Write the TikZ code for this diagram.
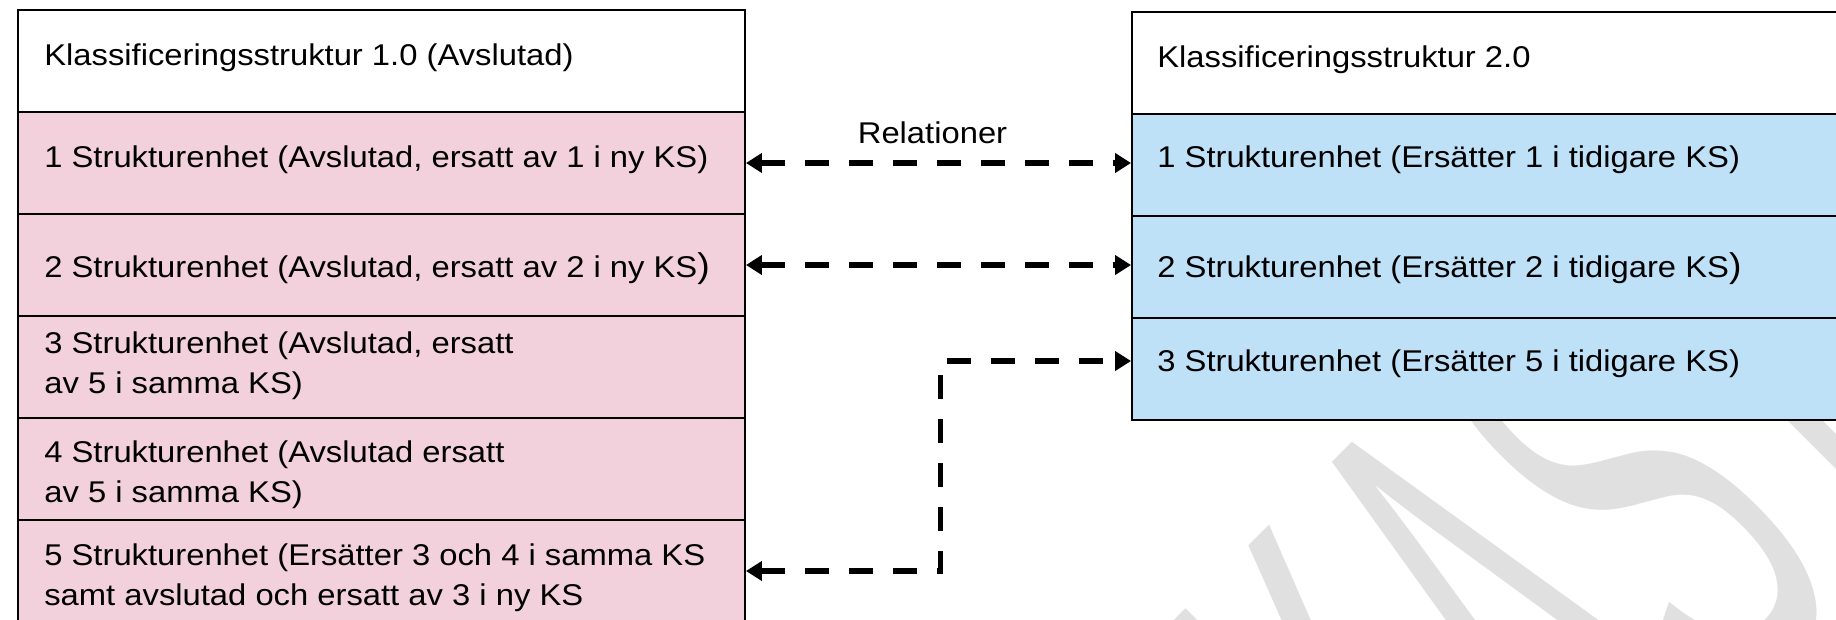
\documentclass[tikz,border=0pt]{standalone}
\usepackage{fontspec}
\setmainfont{Liberation Sans}[FakeStretch=1.092]
\newfontfamily\vmfont{Liberation Sans}[FakeStretch=0.4]
\usepackage{tikz}
\usetikzlibrary{arrows.meta}

\definecolor{ksrosa}{RGB}{242,209,220}
\definecolor{ksbla}{RGB}{190,225,248}

\tikzset{
  rad/.style={draw=black, line width=1.1pt, minimum width=14.54cm, minimum height=2.04cm, inner sep=0pt},
  rubrik/.style={rad, fill=white},
  gammal/.style={rad, fill=ksrosa},
  ny/.style={rad, fill=ksbla},
  txt/.style={anchor=base west, inner sep=0pt, align=left, font=\fontsize{17.07pt}{22.76pt}\selectfont},
  relpil/.style={{Triangle[length=0.32cm,width=0.38cm]}-{Triangle[length=0.32cm,width=0.38cm]}, line width=0.11cm, dash pattern=on 0.48cm off 0.40cm}
}
\newcommand{\storparen}{{\fontsize{19.5pt}{22.76pt}\selectfont )}}

\begin{document}
\begin{tikzpicture}
\useasboundingbox (0,0) rectangle (36.72,-12.38);
\clip (0,0) rectangle (36.72,-12.38);
% vattenstampel
\node [rotate=45, anchor=base west, inner sep=0pt, text=black!12, font=\vmfont\fontsize{381pt}{381pt}\selectfont] (vm) at (24.51,-24.40) {UTKAST};

% KS 1.0
\node [rubrik] (l0) at (7.63,-1.22) {};
\node [gammal] (l1) at (7.63,-3.26) {};
\node [gammal] (l2) at (7.63,-5.30) {};
\node [gammal] (l3) at (7.63,-7.34) {};
\node [gammal] (l4) at (7.63,-9.38) {};
\node [gammal] (l5) at (7.63,-11.42) {};
\node [txt] (t0) at (0.88,-1.30) {Klassificeringsstruktur 1.0 (Avslutad)};
\node [txt] (t1) at (0.88,-3.34) {1 Strukturenhet (Avslutad, ersatt av 1 i ny KS)};
\node [txt] (t2) at (0.88,-5.54) {2 Strukturenhet (Avslutad, ersatt av 2 i ny KS\storparen};
% flerradiga: base = sista raden
\node [txt] (t3) at (0.88,-7.86) {3 Strukturenhet (Avslutad, ersatt\\av 5 i samma KS)};
\node [txt] (t4) at (0.88,-10.04) {4 Strukturenhet (Avslutad ersatt\\av 5 i samma KS)};
\node [txt] (t5) at (0.88,-12.10) {5 Strukturenhet (Ersätter 3 och 4 i samma KS\\samt avslutad och ersatt av 3 i ny KS};

% KS 2.0
\node [rubrik] (r0) at (29.91,-1.26) {};
\node [ny] (r1) at (29.91,-3.30) {};
\node [ny] (r2) at (29.91,-5.34) {};
\node [ny] (r3) at (29.91,-7.38) {};
\node [txt] (s0) at (23.14,-1.34) {Klassificeringsstruktur 2.0};
\node [txt] (s1) at (23.14,-3.34) {1 Strukturenhet (Ersätter 1 i tidigare KS)};
\node [txt] (s2) at (23.14,-5.54) {2 Strukturenhet (Ersätter 2 i tidigare KS\storparen};
\node [txt] (s3) at (23.14,-7.42) {3 Strukturenhet (Ersätter 5 i tidigare KS)};

% relationer
\node [txt, anchor=base] (rel) at (18.65,-2.86) {Relationer};
\coordinate (kna) at (18.81,-7.22);
\draw [relpil] (l1.east) -- (l1.east -| r1.west);
\draw [relpil] (l2.east) -- (l2.east -| r2.west);
\draw [relpil] (l5.east) -| (kna) -- (kna -| r3.west);
\end{tikzpicture}
\end{document}
